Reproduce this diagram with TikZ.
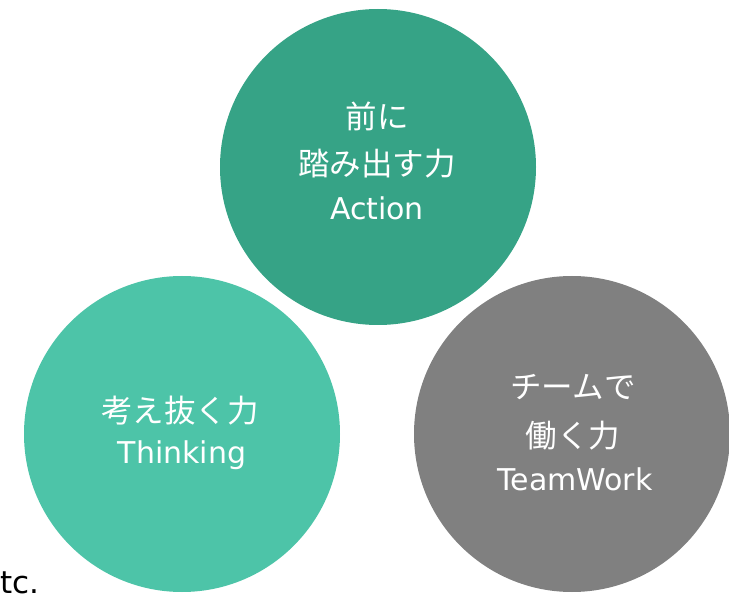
\documentclass[tikz,border=0pt]{standalone}
\usepackage{fontspec}
\setmainfont{DejaVu Sans}
\newfontfamily\cjk{Noto Sans CJK JP}
\definecolor{cTop}{HTML}{36A386}
\definecolor{cLeft}{HTML}{4DC4A8}
\definecolor{cRight}{HTML}{808080}
\begin{document}
\begin{tikzpicture}[x=1pt,y=-1pt,
  bubble/.style={circle,inner sep=0pt,minimum size=316pt},
  jp/.style={text=white,anchor=base,inner sep=0pt,font=\cjk\fontsize{31.5}{36}\selectfont},
  en/.style={text=white,anchor=base,inner sep=0pt,font=\fontsize{30}{35}\selectfont}]
\useasboundingbox (0,0) rectangle (729,596);
\node[bubble,fill=cTop] (top) at (378,167) {};
\node[bubble,fill=cLeft] (left) at (182,434) {};
\node[bubble,fill=cRight] (right) at (572,434) {};
\node[jp] (t1) at (377,129) {前に};
\node[jp] (t2) at (377,176) {踏み出す力};
\node[en] (t3) at (377,220) {Action};
\node[jp] (l1) at (180,422) {考え抜く力};
\node[en] (l2) at (182,463) {Thinking};
\node[jp] (r1) at (573,399) {チームで};
\node[jp] (r2) at (573,447) {働く力};
\node[en] (r3) at (575,490) {TeamWork};
\node[anchor=base west,inner sep=0pt,font=\fontsize{31}{35}\selectfont] (etc) at (0,593) {\llap{e}tc.};
\end{tikzpicture}
\end{document}
